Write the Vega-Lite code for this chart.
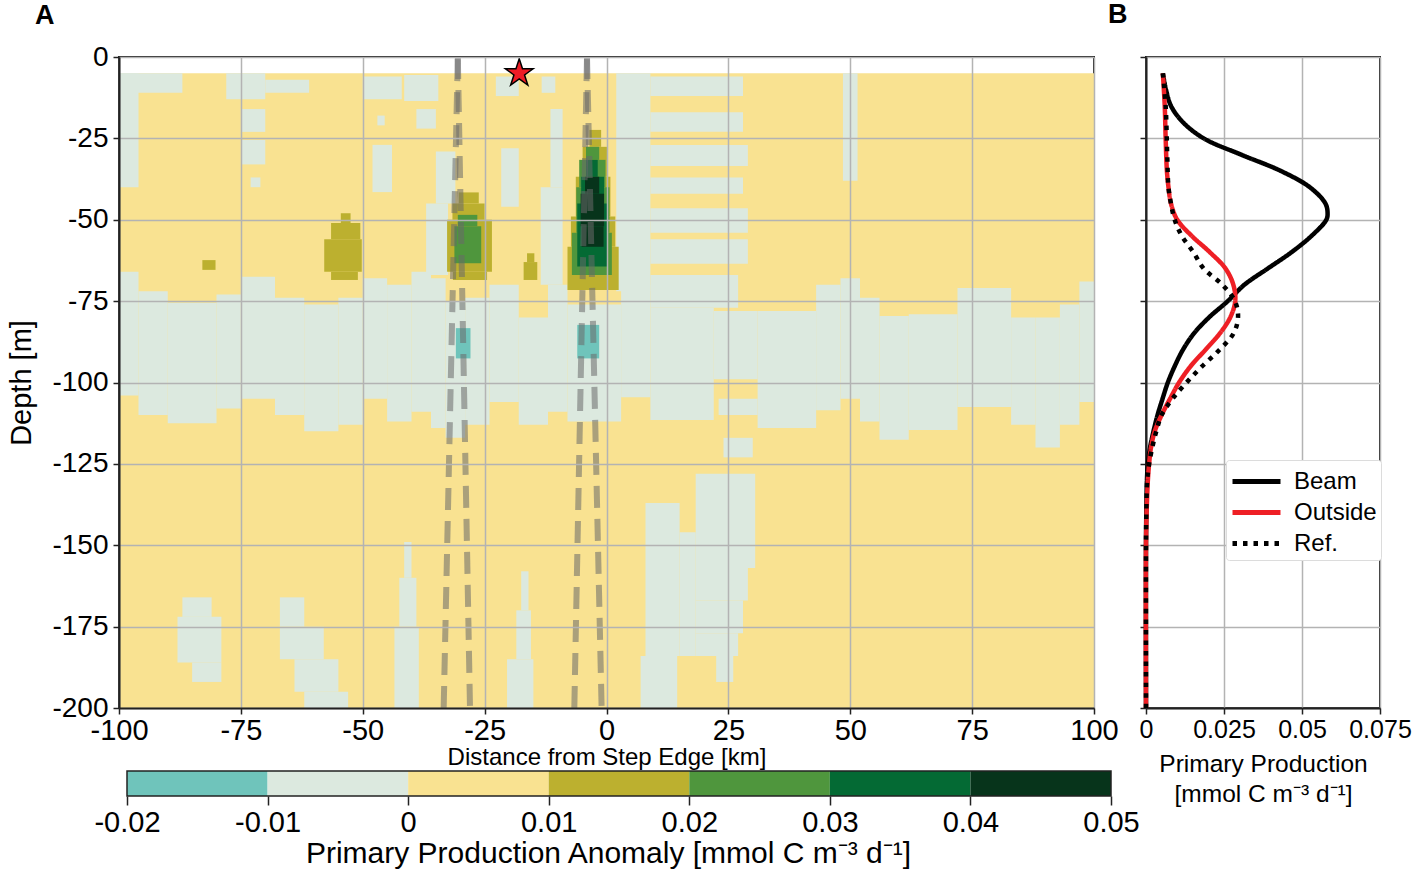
{
  "$schema": "https://vega.github.io/schema/vega-lite/v6.json",
  "padding": {"left": 6, "top": 0, "right": 5, "bottom": 5},
  "bounds": "flush",
  "columns": 2,
  "spacing": {"row": 63, "column": 35},
  "config": {
    "font": "Liberation Sans",
    "view": {"stroke": null},
    "axis": {
      "labelFont": "Liberation Sans", "titleFont": "Liberation Sans",
      "labelColor": "#000", "titleColor": "#000", "titleFontWeight": "normal",
      "gridColor": "#b3b3b3", "gridWidth": 1.5, "gridOpacity": 1,
      "tickColor": "#222", "tickWidth": 1.5, "tickSize": 6,
      "domainColor": "#222", "domainWidth": 2
    },
    "title": {"font": "Liberation Sans", "fontSize": 27, "fontWeight": "bold", "anchor": "start", "frame": "group", "baseline": "alphabetic", "color": "#000"},
    "legend": {"labelFont": "Liberation Sans"}
  },
  "datasets": {
    "regions": [
      {"x1": -100, "x2": 100, "d1": -5, "d2": -200, "v": 0.005},
      {"x1": -100, "x2": -96, "d1": -66, "d2": -104, "v": -0.005},
      {"x1": -96, "x2": -90, "d1": -72, "d2": -110, "v": -0.005},
      {"x1": -90, "x2": -80, "d1": -75.5, "d2": -112.5, "v": -0.005},
      {"x1": -80, "x2": -75, "d1": -73, "d2": -108, "v": -0.005},
      {"x1": -75, "x2": -68, "d1": -67.5, "d2": -105, "v": -0.005},
      {"x1": -68, "x2": -62, "d1": -74, "d2": -110, "v": -0.005},
      {"x1": -62, "x2": -55, "d1": -76, "d2": -115, "v": -0.005},
      {"x1": -55, "x2": -50, "d1": -74, "d2": -113, "v": -0.005},
      {"x1": -50, "x2": -45, "d1": -68, "d2": -105, "v": -0.005},
      {"x1": -45, "x2": -40, "d1": -70, "d2": -112, "v": -0.005},
      {"x1": -40, "x2": -36, "d1": -66, "d2": -109, "v": -0.005},
      {"x1": -36, "x2": -33, "d1": -68, "d2": -114, "v": -0.005},
      {"x1": -33, "x2": -29, "d1": -75, "d2": -117, "v": -0.005},
      {"x1": -29, "x2": -24, "d1": -74, "d2": -113, "v": -0.005},
      {"x1": -24, "x2": -18, "d1": -70, "d2": -106, "v": -0.005},
      {"x1": -18, "x2": -12, "d1": -80, "d2": -113, "v": -0.005},
      {"x1": -12, "x2": -8, "d1": -70, "d2": -109, "v": -0.005},
      {"x1": -8, "x2": 3, "d1": -76, "d2": -112, "v": -0.005},
      {"x1": 3, "x2": 9, "d1": -70, "d2": -104.5, "v": -0.005},
      {"x1": 9, "x2": 22, "d1": -77, "d2": -111.5, "v": -0.005},
      {"x1": 22, "x2": 31, "d1": -78, "d2": -99, "v": -0.005},
      {"x1": 31, "x2": 43, "d1": -78, "d2": -114, "v": -0.005},
      {"x1": 43, "x2": 48, "d1": -70, "d2": -108.5, "v": -0.005},
      {"x1": 48, "x2": 52, "d1": -68, "d2": -105, "v": -0.005},
      {"x1": 52, "x2": 56, "d1": -74, "d2": -112, "v": -0.005},
      {"x1": 56, "x2": 62, "d1": -79.6, "d2": -117.6, "v": -0.005},
      {"x1": 62, "x2": 72, "d1": -79, "d2": -114.6, "v": -0.005},
      {"x1": 72, "x2": 83, "d1": -71, "d2": -107.5, "v": -0.005},
      {"x1": 83, "x2": 88, "d1": -80, "d2": -113, "v": -0.005},
      {"x1": 88, "x2": 93, "d1": -80, "d2": -120, "v": -0.005},
      {"x1": 93, "x2": 97, "d1": -76, "d2": -113, "v": -0.005},
      {"x1": 97, "x2": 100, "d1": -69, "d2": -106, "v": -0.005},
      {"x1": 23, "x2": 31, "d1": -105, "d2": -110, "v": -0.005},
      {"x1": 24, "x2": 30, "d1": -117, "d2": -123, "v": -0.005},
      {"x1": -100, "x2": -96, "d1": -5, "d2": -40, "v": -0.005},
      {"x1": -100, "x2": -87, "d1": -5, "d2": -11, "v": -0.005},
      {"x1": -78, "x2": -70, "d1": -5, "d2": -13, "v": -0.005},
      {"x1": -70, "x2": -61, "d1": -7, "d2": -11, "v": -0.005},
      {"x1": -75, "x2": -70, "d1": -16, "d2": -23, "v": -0.005},
      {"x1": -75, "x2": -70, "d1": -25.5, "d2": -33, "v": -0.005},
      {"x1": -73, "x2": -71, "d1": -37, "d2": -40, "v": -0.005},
      {"x1": -50, "x2": -42, "d1": -6, "d2": -13, "v": -0.005},
      {"x1": -41.5, "x2": -34.5, "d1": -5.5, "d2": -13.5, "v": -0.005},
      {"x1": -47, "x2": -45.5, "d1": -18, "d2": -21, "v": -0.005},
      {"x1": -39, "x2": -35, "d1": -16, "d2": -22, "v": -0.005},
      {"x1": -48, "x2": -44, "d1": -27, "d2": -41.5, "v": -0.005},
      {"x1": -35, "x2": -31, "d1": -29, "d2": -45, "v": -0.005},
      {"x1": -37, "x2": -32.5, "d1": -45, "d2": -67, "v": -0.005},
      {"x1": -22.7, "x2": -18, "d1": -6, "d2": -12, "v": -0.005},
      {"x1": -13.3, "x2": -10.5, "d1": -6, "d2": -11, "v": -0.005},
      {"x1": -21.6, "x2": -18, "d1": -28, "d2": -46, "v": -0.005},
      {"x1": -11.5, "x2": -9, "d1": -16, "d2": -40, "v": -0.005},
      {"x1": -13.5, "x2": -9, "d1": -40, "d2": -70, "v": -0.005},
      {"x1": 2, "x2": 9, "d1": -5, "d2": -72, "v": -0.005},
      {"x1": 9, "x2": 28, "d1": -6, "d2": -12, "v": -0.005},
      {"x1": 9, "x2": 28, "d1": -17, "d2": -23, "v": -0.005},
      {"x1": 9, "x2": 29, "d1": -27, "d2": -33.5, "v": -0.005},
      {"x1": 9, "x2": 28, "d1": -37, "d2": -42, "v": -0.005},
      {"x1": 9, "x2": 29, "d1": -46.5, "d2": -54, "v": -0.005},
      {"x1": 9, "x2": 29, "d1": -56, "d2": -63.5, "v": -0.005},
      {"x1": 9, "x2": 27, "d1": -67, "d2": -77, "v": -0.005},
      {"x1": 48.5, "x2": 51.5, "d1": -5, "d2": -38, "v": -0.005},
      {"x1": -87, "x2": -81, "d1": -166, "d2": -172, "v": -0.005},
      {"x1": -88, "x2": -79, "d1": -172, "d2": -186, "v": -0.005},
      {"x1": -85, "x2": -79, "d1": -186, "d2": -192, "v": -0.005},
      {"x1": -67, "x2": -62, "d1": -166, "d2": -175, "v": -0.005},
      {"x1": -67, "x2": -58, "d1": -175, "d2": -185, "v": -0.005},
      {"x1": -64, "x2": -55, "d1": -185, "d2": -195, "v": -0.005},
      {"x1": -62, "x2": -53, "d1": -195, "d2": -200, "v": -0.005},
      {"x1": -41.5, "x2": -40, "d1": -149, "d2": -160, "v": -0.005},
      {"x1": -42.5, "x2": -39, "d1": -160, "d2": -175, "v": -0.005},
      {"x1": -43.5, "x2": -38.5, "d1": -175, "d2": -200, "v": -0.005},
      {"x1": -17.5, "x2": -16, "d1": -158, "d2": -170, "v": -0.005},
      {"x1": -18.5, "x2": -15.5, "d1": -170, "d2": -185, "v": -0.005},
      {"x1": -20.4, "x2": -15, "d1": -185, "d2": -200, "v": -0.005},
      {"x1": 8, "x2": 15, "d1": -137, "d2": -184, "v": -0.005},
      {"x1": 7, "x2": 14.5, "d1": -184, "d2": -200, "v": -0.005},
      {"x1": 15, "x2": 18.3, "d1": -146, "d2": -184, "v": -0.005},
      {"x1": 18.3, "x2": 30.5, "d1": -128, "d2": -157, "v": -0.005},
      {"x1": 18.3, "x2": 29, "d1": -157, "d2": -167, "v": -0.005},
      {"x1": 18.3, "x2": 28, "d1": -167, "d2": -177, "v": -0.005},
      {"x1": 18.3, "x2": 27, "d1": -177, "d2": -184, "v": -0.005},
      {"x1": 22.5, "x2": 26, "d1": -184, "d2": -192, "v": -0.005},
      {"x1": -54.5, "x2": -52.5, "d1": -48, "d2": -51, "v": 0.015},
      {"x1": -56.5, "x2": -50.5, "d1": -51, "d2": -56, "v": 0.015},
      {"x1": -57.9, "x2": -50.2, "d1": -56, "d2": -66, "v": 0.015},
      {"x1": -56.5, "x2": -51, "d1": -66, "d2": -68.5, "v": 0.015},
      {"x1": -82.9, "x2": -80.2, "d1": -62.4, "d2": -65.4, "v": 0.015},
      {"x1": -30.3, "x2": -26.2, "d1": -41.6, "d2": -45, "v": 0.015},
      {"x1": -31.6, "x2": -25, "d1": -45, "d2": -50, "v": 0.015},
      {"x1": -32.7, "x2": -23.5, "d1": -50, "d2": -66, "v": 0.015},
      {"x1": -31.5, "x2": -24.5, "d1": -66, "d2": -68.5, "v": 0.015},
      {"x1": -16.3, "x2": -14.8, "d1": -60.3, "d2": -63, "v": 0.015},
      {"x1": -17, "x2": -14.2, "d1": -63, "d2": -68.5, "v": 0.015},
      {"x1": -3.5, "x2": -1.1, "d1": -22.4, "d2": -27.6, "v": 0.015},
      {"x1": -4.9, "x2": 0.1, "d1": -27.6, "d2": -36.8, "v": 0.015},
      {"x1": -6.3, "x2": 0.8, "d1": -36.8, "d2": -49, "v": 0.015},
      {"x1": -7.3, "x2": 1.8, "d1": -49, "d2": -58.3, "v": 0.015},
      {"x1": -8, "x2": 2.5, "d1": -58.3, "d2": -71.6, "v": 0.015},
      {"x1": -30.5, "x2": -26.5, "d1": -48.5, "d2": -52, "v": 0.025},
      {"x1": -31.2, "x2": -25.7, "d1": -52, "d2": -63.4, "v": 0.025},
      {"x1": -4.2, "x2": -1.5, "d1": -27.6, "d2": -31.6, "v": 0.025},
      {"x1": -5.6, "x2": -0.2, "d1": -31.6, "d2": -40, "v": 0.025},
      {"x1": -6.2, "x2": 0.6, "d1": -40, "d2": -54, "v": 0.025},
      {"x1": -7.1, "x2": 1.1, "d1": -54, "d2": -67, "v": 0.025},
      {"x1": -4.2, "x2": -1.8, "d1": -31.6, "d2": -36.8, "v": 0.035},
      {"x1": -5.2, "x2": -0.5, "d1": -36.8, "d2": -45, "v": 0.035},
      {"x1": -6, "x2": 0.3, "d1": -45, "d2": -64.4, "v": 0.035},
      {"x1": -4.4, "x2": -1.5, "d1": -36.8, "d2": -42, "v": 0.045},
      {"x1": -5.3, "x2": -0.5, "d1": -42, "d2": -52, "v": 0.045},
      {"x1": -5.1, "x2": -0.6, "d1": -52, "d2": -58.3, "v": 0.045},
      {"x1": -30.9, "x2": -27.9, "d1": -83.3, "d2": -92.6, "v": -0.015},
      {"x1": -6, "x2": -1.5, "d1": -82.3, "d2": -92.6, "v": -0.015}
    ],
    "beams": [
      {"line": "a1", "x": -30.5, "d": 0}, {"line": "a1", "x": -33.4, "d": -200},
      {"line": "a2", "x": -30.5, "d": 0}, {"line": "a2", "x": -28, "d": -200},
      {"line": "b1", "x": -4, "d": 0}, {"line": "b1", "x": -6.6, "d": -200},
      {"line": "b2", "x": -4, "d": 0}, {"line": "b2", "x": -1, "d": -200}
    ],
    "star": [{"x": -17.9, "d": -5}],
    "profiles": [
      {"series": "Beam", "depth": -5, "pp": 0.0054},
      {"series": "Beam", "depth": -10, "pp": 0.0064},
      {"series": "Beam", "depth": -15, "pp": 0.008},
      {"series": "Beam", "depth": -20, "pp": 0.0118},
      {"series": "Beam", "depth": -25, "pp": 0.0185},
      {"series": "Beam", "depth": -30, "pp": 0.0305},
      {"series": "Beam", "depth": -35, "pp": 0.0432},
      {"series": "Beam", "depth": -40, "pp": 0.0525},
      {"series": "Beam", "depth": -45, "pp": 0.0575},
      {"series": "Beam", "depth": -48, "pp": 0.0582},
      {"series": "Beam", "depth": -50, "pp": 0.0578},
      {"series": "Beam", "depth": -55, "pp": 0.053},
      {"series": "Beam", "depth": -60, "pp": 0.0466},
      {"series": "Beam", "depth": -65, "pp": 0.039},
      {"series": "Beam", "depth": -70, "pp": 0.0315},
      {"series": "Beam", "depth": -75, "pp": 0.0262},
      {"series": "Beam", "depth": -80, "pp": 0.0202},
      {"series": "Beam", "depth": -85, "pp": 0.0153},
      {"series": "Beam", "depth": -90, "pp": 0.0118},
      {"series": "Beam", "depth": -95, "pp": 0.0092},
      {"series": "Beam", "depth": -100, "pp": 0.007},
      {"series": "Beam", "depth": -105, "pp": 0.0053},
      {"series": "Beam", "depth": -110, "pp": 0.0037},
      {"series": "Beam", "depth": -115, "pp": 0.0024},
      {"series": "Beam", "depth": -120, "pp": 0.0013},
      {"series": "Beam", "depth": -125, "pp": 0.0006},
      {"series": "Beam", "depth": -130, "pp": 0.0003},
      {"series": "Beam", "depth": -140, "pp": 0.0001},
      {"series": "Beam", "depth": -150, "pp": 0.0},
      {"series": "Beam", "depth": -200, "pp": 0.0},
      {"series": "Outside", "depth": -5, "pp": 0.0054},
      {"series": "Outside", "depth": -15, "pp": 0.006},
      {"series": "Outside", "depth": -25, "pp": 0.0063},
      {"series": "Outside", "depth": -35, "pp": 0.0067},
      {"series": "Outside", "depth": -40, "pp": 0.0072},
      {"series": "Outside", "depth": -45, "pp": 0.008},
      {"series": "Outside", "depth": -50, "pp": 0.01},
      {"series": "Outside", "depth": -55, "pp": 0.0147},
      {"series": "Outside", "depth": -60, "pp": 0.0205},
      {"series": "Outside", "depth": -65, "pp": 0.0255},
      {"series": "Outside", "depth": -70, "pp": 0.028},
      {"series": "Outside", "depth": -75, "pp": 0.0286},
      {"series": "Outside", "depth": -80, "pp": 0.027},
      {"series": "Outside", "depth": -85, "pp": 0.0236},
      {"series": "Outside", "depth": -90, "pp": 0.019},
      {"series": "Outside", "depth": -95, "pp": 0.0143},
      {"series": "Outside", "depth": -100, "pp": 0.0106},
      {"series": "Outside", "depth": -105, "pp": 0.0077},
      {"series": "Outside", "depth": -110, "pp": 0.005},
      {"series": "Outside", "depth": -115, "pp": 0.0028},
      {"series": "Outside", "depth": -120, "pp": 0.0016},
      {"series": "Outside", "depth": -125, "pp": 0.001},
      {"series": "Outside", "depth": -130, "pp": 0.0006},
      {"series": "Outside", "depth": -140, "pp": 0.0002},
      {"series": "Outside", "depth": -150, "pp": 0.0},
      {"series": "Outside", "depth": -200, "pp": 0.0},
      {"series": "Ref.", "depth": -5, "pp": 0.0054},
      {"series": "Ref.", "depth": -15, "pp": 0.0063},
      {"series": "Ref.", "depth": -30, "pp": 0.0068},
      {"series": "Ref.", "depth": -40, "pp": 0.0072},
      {"series": "Ref.", "depth": -45, "pp": 0.008},
      {"series": "Ref.", "depth": -50, "pp": 0.0092},
      {"series": "Ref.", "depth": -55, "pp": 0.0115},
      {"series": "Ref.", "depth": -60, "pp": 0.0152},
      {"series": "Ref.", "depth": -65, "pp": 0.0185},
      {"series": "Ref.", "depth": -70, "pp": 0.0245},
      {"series": "Ref.", "depth": -75, "pp": 0.0285},
      {"series": "Ref.", "depth": -80, "pp": 0.0295},
      {"series": "Ref.", "depth": -85, "pp": 0.028},
      {"series": "Ref.", "depth": -90, "pp": 0.0235},
      {"series": "Ref.", "depth": -95, "pp": 0.018},
      {"series": "Ref.", "depth": -100, "pp": 0.013},
      {"series": "Ref.", "depth": -105, "pp": 0.0085},
      {"series": "Ref.", "depth": -110, "pp": 0.005},
      {"series": "Ref.", "depth": -115, "pp": 0.0033},
      {"series": "Ref.", "depth": -120, "pp": 0.002},
      {"series": "Ref.", "depth": -125, "pp": 0.001},
      {"series": "Ref.", "depth": -130, "pp": 0.0004},
      {"series": "Ref.", "depth": -140, "pp": 0.0001},
      {"series": "Ref.", "depth": -150, "pp": 0.0},
      {"series": "Ref.", "depth": -200, "pp": 0.0}
    ],
    "colorbar": [
      {"lo": -0.02, "hi": -0.01, "v": -0.015},
      {"lo": -0.01, "hi": 0, "v": -0.005},
      {"lo": 0, "hi": 0.01, "v": 0.005},
      {"lo": 0.01, "hi": 0.02, "v": 0.015},
      {"lo": 0.02, "hi": 0.03, "v": 0.025},
      {"lo": 0.03, "hi": 0.04, "v": 0.035},
      {"lo": 0.04, "hi": 0.05, "v": 0.045}
    ],
    "cbframe": [{"lo": -0.02, "hi": 0.05}]
  },
  "concat": [
    {
      "width": 975,
      "height": 651,
      "title": {"text": "A", "dx": -84, "offset": 13},
      "view": {"stroke": "#222", "strokeWidth": 2},
      "layer": [
        {
          "data": {"name": "regions"},
          "mark": {"type": "rect"},
          "encoding": {
            "x": {"field": "x1", "type": "quantitative",
              "scale": {"domain": [-100, 100], "nice": false, "zero": false},
              "axis": {"values": [-100, -75, -50, -25, 0, 25, 50, 75, 100], "labelExpr": "'' + datum.value", "labelFontSize": 29, "labelPadding": 2, "labelFlush": false, "labelOverlap": false, "title": "Distance from Step Edge [km]", "titleFontSize": 24, "titlePadding": 0, "zindex": 1}},
            "x2": {"field": "x2"},
            "y": {"field": "d1", "type": "quantitative",
              "scale": {"domain": [-200, 0], "nice": false, "zero": false},
              "axis": {"values": [-200, -175, -150, -125, -100, -75, -50, -25, 0], "labelExpr": "'' + datum.value", "labelFontSize": 28, "labelPadding": 5, "labelOverlap": false, "title": "Depth [m]", "titleFontSize": 29, "titlePadding": 15, "zindex": 1}},
            "y2": {"field": "d2"},
            "color": {"field": "v", "type": "quantitative",
              "scale": {"type": "threshold", "domain": [-0.01, 0, 0.01, 0.02, 0.03, 0.04], "range": ["#6fc4bb", "#dce9df", "#f9e291", "#bcb02f", "#4f963d", "#046a34", "#07341b"]},
              "legend": null}
          }
        },
        {
          "data": {"name": "beams"},
          "mark": {"type": "line", "strokeDash": [22, 11], "strokeWidth": 6, "color": "#6a6a6a", "opacity": 0.55},
          "encoding": {
            "x": {"field": "x", "type": "quantitative"},
            "y": {"field": "d", "type": "quantitative"},
            "detail": {"field": "line", "type": "nominal"}
          }
        },
        {
          "data": {"name": "star"},
          "mark": {"type": "point", "shape": "M0,-1L0.2245,-0.309L0.951,-0.309L0.363,0.118L0.588,0.809L0,0.382L-0.588,0.809L-0.363,0.118L-0.951,-0.309L-0.2245,-0.309Z", "size": 850, "filled": true, "fill": "#ee1c25", "stroke": "#000", "strokeWidth": 1.5, "opacity": 1},
          "encoding": {
            "x": {"field": "x", "type": "quantitative"},
            "y": {"field": "d", "type": "quantitative"}
          }
        }
      ]
    },
    {
      "width": 234,
      "height": 651,
      "title": {"text": "B", "dx": -38, "offset": 27},
      "view": {"stroke": "#222", "strokeWidth": 2},
      "data": {"name": "profiles"},
      "mark": {"type": "line", "strokeWidth": 4.5, "interpolate": "catmull-rom"},
      "encoding": {
        "x": {"field": "pp", "type": "quantitative",
          "scale": {"domain": [0, 0.075], "nice": false, "zero": false},
          "axis": {"values": [0, 0.025, 0.05, 0.075], "labelExpr": "'' + datum.value", "labelFontSize": 25, "labelPadding": 3, "labelFlush": false, "labelOverlap": false, "title": ["Primary Production", "[mmol C m⁻³ d⁻¹]"], "titleFontSize": 24.5, "titleLineHeight": 30, "titlePadding": 10}},
        "y": {"field": "depth", "type": "quantitative",
          "scale": {"domain": [-200, 0], "nice": false, "zero": false},
          "axis": {"values": [-200, -175, -150, -125, -100, -75, -50, -25, 0], "labels": false, "title": null}},
        "color": {"field": "series", "type": "nominal",
          "scale": {"domain": ["Beam", "Outside", "Ref."], "range": ["#000000", "#ee1f25", "#000000"]},
          "legend": {"orient": "none", "legendX": 80, "legendY": 403, "title": null, "labelFontSize": 24, "symbolType": "M-1.6,0H1.6", "symbolSize": 900, "symbolStrokeWidth": 5, "symbolOffset": 9, "labelOffset": 20, "padding": 4, "rowPadding": 1, "fillColor": "#ffffff", "strokeColor": "#dcdcdc", "cornerRadius": 3}},
        "strokeDash": {"field": "series", "type": "nominal",
          "scale": {"domain": ["Beam", "Outside", "Ref."], "range": [[1, 0], [1, 0], [4.5, 6]]},
          "legend": {"orient": "none", "legendX": 80, "legendY": 403, "title": null, "labelFontSize": 24, "symbolType": "M-1.6,0H1.6", "symbolSize": 900, "symbolStrokeWidth": 5, "symbolOffset": 9, "labelOffset": 20, "padding": 4, "rowPadding": 1, "fillColor": "#ffffff", "strokeColor": "#dcdcdc", "cornerRadius": 3}},
        "order": {"field": "depth", "type": "quantitative", "sort": "descending"}
      }
    },
    {
      "width": 992,
      "height": 25,
      "layer": [
        {
          "data": {"name": "colorbar"},
          "mark": {"type": "rect"},
          "encoding": {
            "x": {"field": "lo", "type": "quantitative",
              "scale": {"domain": [-0.02, 0.05], "range": [8, 992], "nice": false, "zero": false},
              "axis": {"values": [-0.02, -0.01, 0, 0.01, 0.02, 0.03, 0.04, 0.05], "labelExpr": "'' + datum.value", "labelFontSize": 29, "labelPadding": 3, "labelFlush": false, "labelOverlap": false, "tickSize": 9, "domain": false, "grid": false, "title": "Primary Production Anomaly [mmol C m⁻³ d⁻¹]", "titleFontSize": 30, "titlePadding": 1, "titleX": 489}},
            "x2": {"field": "hi"},
            "color": {"field": "v", "type": "quantitative",
              "scale": {"type": "threshold", "domain": [-0.01, 0, 0.01, 0.02, 0.03, 0.04], "range": ["#6fc4bb", "#dce9df", "#f9e291", "#bcb02f", "#4f963d", "#046a34", "#07341b"]},
              "legend": null}
          }
        },
        {
          "data": {"name": "cbframe"},
          "mark": {"type": "rect", "filled": false, "stroke": "#222", "strokeWidth": 1.5},
          "encoding": {
            "x": {"field": "lo", "type": "quantitative"},
            "x2": {"field": "hi"}
          }
        }
      ]
    }
  ],
  "resolve": {
    "scale": {"color": "independent", "strokeDash": "independent"},
    "legend": {"color": "independent", "strokeDash": "independent"}
  }
}
